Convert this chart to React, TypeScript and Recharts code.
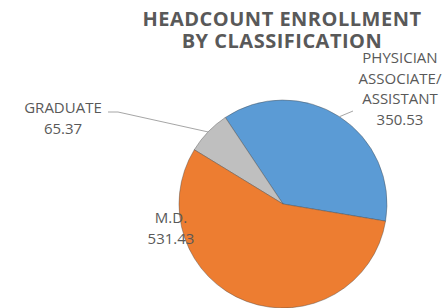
import {PieChart, Pie, Cell} from 'recharts';

import type {ReactElement} from 'react';

const categories = ['PHYSICIAN\nASSOCIATE/\nASSISTANT', 'GRADUATE', 'M.D.'];
const headcounts = [350.53, 65.37, 531.43];
const sliceColors = ['#5B9BD5', '#BFBFBF', '#ED7D31'];
const titleLines = ['HEADCOUNT ENROLLMENT', 'BY CLASSIFICATION'];

const chartData = categories.map((name, i) => ({name, value: headcounts[i]}));

// label spots are hand placed like in the original, relative to the pie centre
const labelSpots = [
	{dx: 117, dy: -141, leader: [[70, -93]]},
	{dx: -220, dy: -91, leader: [[-165, -92], [-175, -92]]},
	{dx: -112, dy: 19, leader: [] as number[][]}
];

const TEXT_GREY = '#595959';
const RAD = Math.PI / 180;

function renderLabel(props: any): ReactElement {
	const {cx, cy, midAngle, outerRadius, index} = props;
	const spot = labelSpots[index];
	const entry = chartData[index];
	const ex = cx + outerRadius * Math.cos(-midAngle * RAD);
	const ey = cy + outerRadius * Math.sin(-midAngle * RAD);
	const lines = entry.name.split('\n').concat(entry.value.toFixed(2));
	const pts = [[ex, ey], ...spot.leader.map(([x, y]) => [cx + x, cy + y])];
	const tx = cx + spot.dx;

	return (
		<g>
			{pts.length > 1 && (
				<polyline
					points={pts.map((p) => p.join(',')).join(' ')}
					fill={'none'}
					stroke={'#a6a6a6'}
					strokeWidth={1}
				/>
			)}
			<text
				x={tx}
				y={cy + spot.dy}
				textAnchor={'middle'}
				fontFamily={'"Open Sans", sans-serif'}
				fontSize={15}
				fill={TEXT_GREY}
			>
				{lines.map((l, i) => (
					<tspan key={i} x={tx} dy={i === 0 ? 0 : 20.7}>
						{l}
					</tspan>
				))}
			</text>
		</g>
	);
}

export default function App(): ReactElement {
	return (
		<div style={{position: 'absolute', left: 0, top: 0, width: 446, height: 308, background: '#fff'}}>
			<style>{'.recharts-pie-sectors{filter:drop-shadow(1px 2px 1px rgba(0,0,0,0.4));}'}</style>
			<PieChart width={446} height={308} margin={{top: 0, right: 0, bottom: 0, left: 0}}>
				<Pie
					data={chartData}
					dataKey={'value'}
					nameKey={'name'}
					cx={283}
					cy={204}
					outerRadius={104}
					startAngle={-9.5}
					endAngle={350.5}
					stroke={'rgba(70,70,70,0.55)'}
					strokeWidth={0.75}
					label={renderLabel}
					labelLine={false}
					isAnimationActive={false}
				>
					{chartData.map((d, i) => (
						<Cell key={d.name} fill={sliceColors[i]} />
					))}
				</Pie>
			</PieChart>
			<div
				style={{
					position: 'absolute',
					left: 132,
					top: 8,
					width: 300,
					textAlign: 'center',
					fontFamily: '"Open Sans", sans-serif',
					fontWeight: 700,
					fontSize: 20,
					letterSpacing: '0.5px',
					lineHeight: '22px',
					color: TEXT_GREY,
					pointerEvents: 'none'
				}}
			>
				{titleLines.map((t) => (
					<div key={t}>{t}</div>
				))}
			</div>
		</div>
	);
}
